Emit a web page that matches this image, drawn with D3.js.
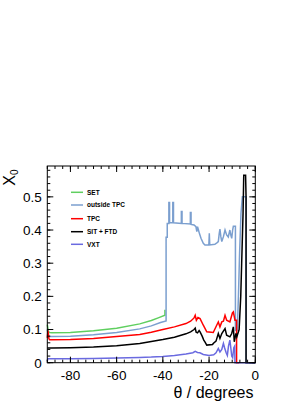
<!DOCTYPE html>
<html>
<head>
<meta charset="utf-8">
<script src="https://cdn.jsdelivr.net/npm/d3@7"></script>
<style>
  body { margin: 0; background: #fff; }
  text { font-family: "Liberation Sans", Arial, Helvetica, sans-serif; }
</style>
</head>
<body>
<div id="chart"></div>
<script>
// material budget X0 vs theta, one list of [theta, X0] points per sub-detector
// (SET is hidden under "outside TPC" beyond -39 deg, so its list stops there)
const setPts = [[-90, 0.115], [-89.5, 0.094], [-89, 0.091], [-88, 0.090], [-80, 0.091], [-70, 0.096], [-60, 0.104],
  [-50, 0.117], [-45, 0.127], [-42, 0.135], [-39.1, 0.143], [-39.1, 0.16]]

const outsideTpcPts = [[-90, 0.10], [-89.5, 0.082], [-89, 0.079], [-88, 0.079], [-80, 0.080], [-70, 0.084], [-60, 0.091],
  [-50, 0.102], [-45, 0.111], [-41, 0.121], [-38.6, 0.126], [-38.6, 0.378], [-38.1, 0.378], [-38.1, 0.42],
  [-37.4, 0.42], [-37.4, 0.483], [-37.1, 0.483], [-37.1, 0.422], [-35.7, 0.422], [-35.7, 0.483], [-35.4, 0.483],
  [-35.4, 0.422], [-32.0, 0.42], [-32.0, 0.456], [-31.7, 0.456], [-31.7, 0.42], [-28.1, 0.418], [-28.1, 0.453],
  [-27.8, 0.453], [-27.8, 0.417], [-26.5, 0.415], [-25.7, 0.41], [-25.3, 0.395], [-25.0, 0.41], [-24.6, 0.40],
  [-24.2, 0.39], [-23.5, 0.375], [-22.5, 0.36], [-21.8, 0.355], [-20.1, 0.355], [-19.9, 0.39], [-19.7, 0.355],
  [-17.5, 0.357], [-16.5, 0.362], [-16.0, 0.365], [-15.6, 0.39], [-15.3, 0.403], [-14.9, 0.38], [-14.5, 0.365],
  [-13.8, 0.38], [-13.1, 0.40], [-12.4, 0.385], [-11.7, 0.379], [-11.0, 0.40], [-10.6, 0.385], [-10.2, 0.375],
  [-9.8, 0.40], [-9.5, 0.411], [-8.6, 0.411], [-8.6, 0.098], [-7.8, 0.098], [-7.3, 0.2], [-6.8, 0.33],
  [-6.2, 0.45], [-5.6, 0.5], [-4.0, 0.5], [-4.0, 0], [0, 0]]

const tpcPts = [[-90, 0.075], [-89.7, 0.097], [-89.3, 0.072], [-89, 0.069], [-88, 0.069], [-80, 0.070], [-70, 0.073],
  [-60, 0.079], [-50, 0.085], [-45, 0.092], [-40, 0.100], [-35, 0.108], [-30, 0.118], [-28, 0.125], [-26.5, 0.135],
  [-26.0, 0.143], [-25.5, 0.128], [-24.8, 0.136], [-23.9, 0.133], [-22.5, 0.113], [-21.0, 0.093], [-18.2, 0.091],
  [-16.7, 0.113], [-16.0, 0.123], [-15.3, 0.108], [-14.5, 0.123], [-13.8, 0.125], [-13.1, 0.143], [-12.4, 0.128],
  [-11.0, 0.123], [-9.9, 0.15], [-9.5, 0.153], [-8.8, 0.128], [-8.1, 0.128], [-8.1, 0], [-7, 0]]

const sitFtdPts = [[-90, 0.044], [-88, 0.044], [-80, 0.045], [-70, 0.047], [-60, 0.051], [-50, 0.058], [-45, 0.064],
  [-40, 0.070], [-35, 0.077], [-30, 0.087], [-28, 0.093], [-26.5, 0.1], [-26.0, 0.104], [-25.6, 0.092], [-25.0, 0.09],
  [-24.3, 0.097], [-23.9, 0.093], [-23.0, 0.08], [-22.3, 0.068], [-21.8, 0.063], [-21.0, 0.053], [-18.5, 0.055],
  [-18.2, 0.058], [-17.0, 0.065], [-16.0, 0.088], [-15.3, 0.073], [-14.5, 0.088], [-13.1, 0.103], [-12.4, 0.083],
  [-11.0, 0.078], [-10.2, 0.088], [-9.5, 0.108], [-9.1, 0.063], [-8.4, 0.088], [-8.0, 0.078], [-7.0, 0.10],
  [-6.3, 0.2], [-5.9, 0.3], [-5.3, 0.45], [-5.0, 0.565], [-4.2, 0.565], [-4.0, 0.5], [-4.0, 0], [0, 0]]

const vxtPts = [[-90, 0.005], [-89.8, 0.012], [-88, 0.012], [-80, 0.012], [-70, 0.013], [-60, 0.014], [-50, 0.016],
  [-45, 0.017], [-40, 0.019], [-35, 0.022], [-30, 0.026], [-27, 0.03], [-26, 0.034], [-25, 0.031], [-24, 0.03],
  [-22.5, 0.025], [-20, 0.022], [-18, 0.024], [-17, 0.03], [-16.0, 0.043], [-15.3, 0.032], [-14.5, 0.04],
  [-13.8, 0.058], [-13.3, 0.045], [-12.6, 0.03], [-12.1, 0.022], [-11.6, 0.05], [-11.0, 0.068], [-10.6, 0.045],
  [-10.2, 0.02], [-9.8, 0.015], [-9.3, 0.045], [-8.9, 0.05], [-8.8, 0], [0, 0]]

const seriesNames = ['SET', 'outside TPC', 'TPC', 'SIT + FTD', 'VXT']
const seriesData = [setPts, outsideTpcPts, tpcPts, sitFtdPts, vxtPts]
const seriesColours = ['#5fcf5f', '#7b9fcf', '#ff0000', '#000000', '#6a6ae0']

const xTicks = [-80, -60, -40, -20, 0]
const yTicks = [0, 0.1, 0.2, 0.3, 0.4, 0.5]
const yTickLabels = ['0', '0.1', '0.2', '0.3', '0.4', '0.5']

const width = 291
const height = 411
const frameL = 47.3, frameR = 255.3, frameT = 166, frameB = 362.7

const svg = d3.select('#chart').append('svg')
  .attr('width', width)
  .attr('height', height)

const xScale = d3.scaleLinear().domain([-90, 0]).range([frameL, frameR])
const yScale = d3.scaleLinear().domain([0, 0.593]).range([frameB, frameT])

// curves
const line = d3.line()
  .x(d => xScale(d[0]))
  .y(d => yScale(d[1]))

const gLines = svg.append('g')
seriesData.forEach((pts, i) => {
  gLines.append('path')
    .attr('d', line(pts))
    .attr('fill', 'none')
    .attr('stroke', seriesColours[i])
    .attr('stroke-width', 1.5)
    .attr('stroke-linejoin', 'miter')
})

// frame
svg.append('rect')
  .attr('x', frameL).attr('y', frameT)
  .attr('width', frameR - frameL).attr('height', frameB - frameT)
  .attr('fill', 'none').attr('stroke', '#000').attr('stroke-width', 1)

// ticks on all four sides, pointing inwards
const xMinor = d3.range(-90, 0.01, 20 / 6)
const yMinor = d3.range(0, 0.593, 0.02)
const gTicks = svg.append('g').attr('stroke', '#000').attr('stroke-width', 1)

function addXTicks(vals, len) {
  vals.forEach(v => {
    const x = xScale(v)
    gTicks.append('line').attr('x1', x).attr('x2', x).attr('y1', frameB).attr('y2', frameB - len)
    gTicks.append('line').attr('x1', x).attr('x2', x).attr('y1', frameT).attr('y2', frameT + len)
  })
}
function addYTicks(vals, len) {
  vals.forEach(v => {
    const y = yScale(v)
    gTicks.append('line').attr('x1', frameL).attr('x2', frameL + len).attr('y1', y).attr('y2', y)
    gTicks.append('line').attr('x1', frameR).attr('x2', frameR - len).attr('y1', y).attr('y2', y)
  })
}
addXTicks(xMinor, 3)
addXTicks(xTicks, 6)
addYTicks(yMinor, 3)
addYTicks(yTicks, 6)

// tick labels
svg.append('g').selectAll('text')
  .data(xTicks)
  .enter().append('text')
  .attr('x', d => xScale(d))
  .attr('y', 380)
  .attr('text-anchor', 'middle')
  .style('font-size', '13.5px')
  .text(d => d)

svg.append('g').selectAll('text')
  .data(yTicks)
  .enter().append('text')
  .attr('x', 41.7)
  .attr('y', d => yScale(d) + 4.8)
  .attr('text-anchor', 'end')
  .style('font-size', '13.5px')
  .text((d, i) => yTickLabels[i])

// axis titles
svg.append('text')
  .attr('x', 253.5)
  .attr('y', 398)
  .attr('text-anchor', 'end')
  .style('font-size', '16px')
  .text('θ / degrees')

const yTitle = svg.append('text')
  .attr('transform', 'translate(15,169.5) rotate(-90)')
  .attr('text-anchor', 'end')
  .style('font-size', '16px')
yTitle.append('tspan').text('X')
yTitle.append('tspan').attr('dy', 3).style('font-size', '10px').text('0')

// legend
const legendY = [192.3, 205, 218.7, 231.7, 244.3]
const gLegend = svg.append('g')
seriesNames.forEach((name, i) => {
  gLegend.append('line')
    .attr('x1', 71).attr('x2', 83)
    .attr('y1', legendY[i]).attr('y2', legendY[i])
    .attr('stroke', seriesColours[i])
    .attr('stroke-width', 1.5)
  gLegend.append('text')
    .attr('x', 87)
    .attr('y', legendY[i] + 2.3)
    .style('font-size', '6.5px')
    .style('font-weight', 'bold')
    .text(name)
})
</script>
</body>
</html>
